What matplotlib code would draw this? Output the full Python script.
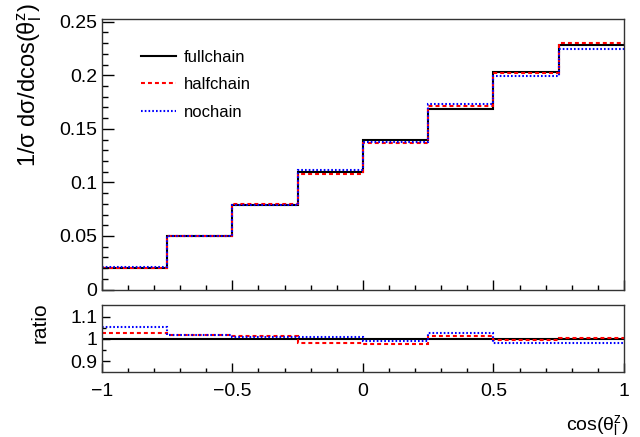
import numpy as np
import matplotlib
matplotlib.use('Agg')
import matplotlib.pyplot as plt
from matplotlib.ticker import MultipleLocator, FixedLocator

plt.rcParams['font.family'] = ['Liberation Sans', 'DejaVu Sans']
plt.rcParams['mathtext.fontset'] = 'custom'
plt.rcParams['mathtext.rm'] = 'Liberation Sans'
plt.rcParams['mathtext.it'] = 'Liberation Sans'
plt.rcParams['mathtext.bf'] = 'Liberation Sans:bold'

## binned distributions.
bin_edges = [-1.0, -0.75, -0.5, -0.25, 0.0, 0.25, 0.5, 0.75, 1.0]
fullchain = [0.0200, 0.0496, 0.0785, 0.1100, 0.1392, 0.1688, 0.2029, 0.2284]
halfchain = [0.0205, 0.0504, 0.0796, 0.1081, 0.1363, 0.1713, 0.2017, 0.2298]
nochain   = [0.0211, 0.0504, 0.0793, 0.1111, 0.1380, 0.1732, 0.1995, 0.2245]
labels = ['fullchain', 'halfchain', 'nochain']

colors = ['black', '#ff0000', '#0000ff']
styles = ['-', (0, (1.9, 1.45)), (0, (0.8, 1.0))]
lw = 1.5

full_arr = np.array(fullchain)
series = [np.array(fullchain), np.array(halfchain), np.array(nochain)]

fig = plt.figure(figsize=(6.4, 4.37), dpi=100)
ax_main = fig.add_axes([0.159, 0.3375, 0.816, 0.619])
ax_ratio = fig.add_axes([0.159, 0.1487, 0.816, 0.1533])

## main panel.
for vals, c, ls, lab in zip(series, colors, styles, labels):
    ax_main.stairs(vals, bin_edges, baseline=None, color=c, linestyle=ls, linewidth=lw, label=lab)
ax_main.set_xlim(-1, 1)
ax_main.set_ylim(0, 0.2525)
ax_main.yaxis.set_minor_locator(MultipleLocator(0.01))
ax_main.xaxis.set_major_locator(MultipleLocator(0.5))
ax_main.xaxis.set_minor_locator(MultipleLocator(0.1))
ax_main.set_yticks([0, 0.05, 0.1, 0.15, 0.2, 0.25])
ax_main.set_yticklabels(['0', '0.05', '0.1', '0.15', '0.2', '0.25'])
ax_main.tick_params(axis='x', which='both', direction='in', labelbottom=False)
ax_main.tick_params(axis='x', which='major', length=7.2, width=1)
ax_main.tick_params(axis='x', which='minor', length=3.6, width=1)
ax_main.tick_params(axis='y', which='major', direction='in', length=8.6, width=1, labelsize=14, pad=3)
ax_main.tick_params(axis='y', which='minor', direction='in', length=4.3, width=1)

lines = [plt.Line2D([], [], color=c, linestyle=ls, linewidth=lw) for c, ls in zip(colors, styles)]
ax_main.legend(lines, labels, loc='upper left', bbox_to_anchor=(0.076, 0.887), frameon=False,
               fontsize=12, handlelength=2.07, handletextpad=0.45, labelspacing=0.75,
               borderpad=0, borderaxespad=0)

## ratio panel.
for vals, c, ls in zip(series, colors, styles):
    ax_ratio.stairs(vals / full_arr, bin_edges, baseline=None, color=c, linestyle=ls, linewidth=lw)
ax_ratio.set_xlim(-1, 1)
ax_ratio.set_ylim(0.851, 1.153)
ax_ratio.set_yticks([0.9, 1.0, 1.1])
ax_ratio.set_yticklabels(['0.9', '1', '1.1'])
ax_ratio.yaxis.set_minor_locator(FixedLocator([0.95, 1.05]))
ax_ratio.set_xticks([-1, -0.5, 0, 0.5, 1])
ax_ratio.set_xticklabels(['\u22121', '\u22120.5', '0', '0.5', '1'])
ax_ratio.xaxis.set_minor_locator(MultipleLocator(0.1))
ax_ratio.tick_params(axis='x', which='major', direction='in', length=6.8, width=1, labelsize=14, pad=8)
ax_ratio.tick_params(axis='x', which='minor', direction='in', length=2.9, width=1)
ax_ratio.tick_params(axis='y', which='major', direction='in', length=5.8, width=1, labelsize=14, pad=3)
ax_ratio.tick_params(axis='y', which='minor', direction='in', length=2.9, width=1)

for ax in (ax_main, ax_ratio):
    for sp in ax.spines.values():
        sp.set_linewidth(1)
        sp.set_color('#333333')

## axis titles, placed ROOT-style.
fig.text(30 / 640, 1 - 3 / 437, '1/\u03c3 d\u03c3/dcos(\u03b8$_{l}^{z}$)', rotation=90,
         ha='center', va='top', fontsize=17)
fig.text(40 / 640, 1 - 302 / 437, 'ratio', rotation=90, ha='center', va='top', fontsize=15)
fig.text(628 / 640, 1 - 425 / 437, 'cos(\u03b8$_{l}^{z}$)', ha='right', va='center', fontsize=14)

plt.savefig('out.png', dpi=100)
